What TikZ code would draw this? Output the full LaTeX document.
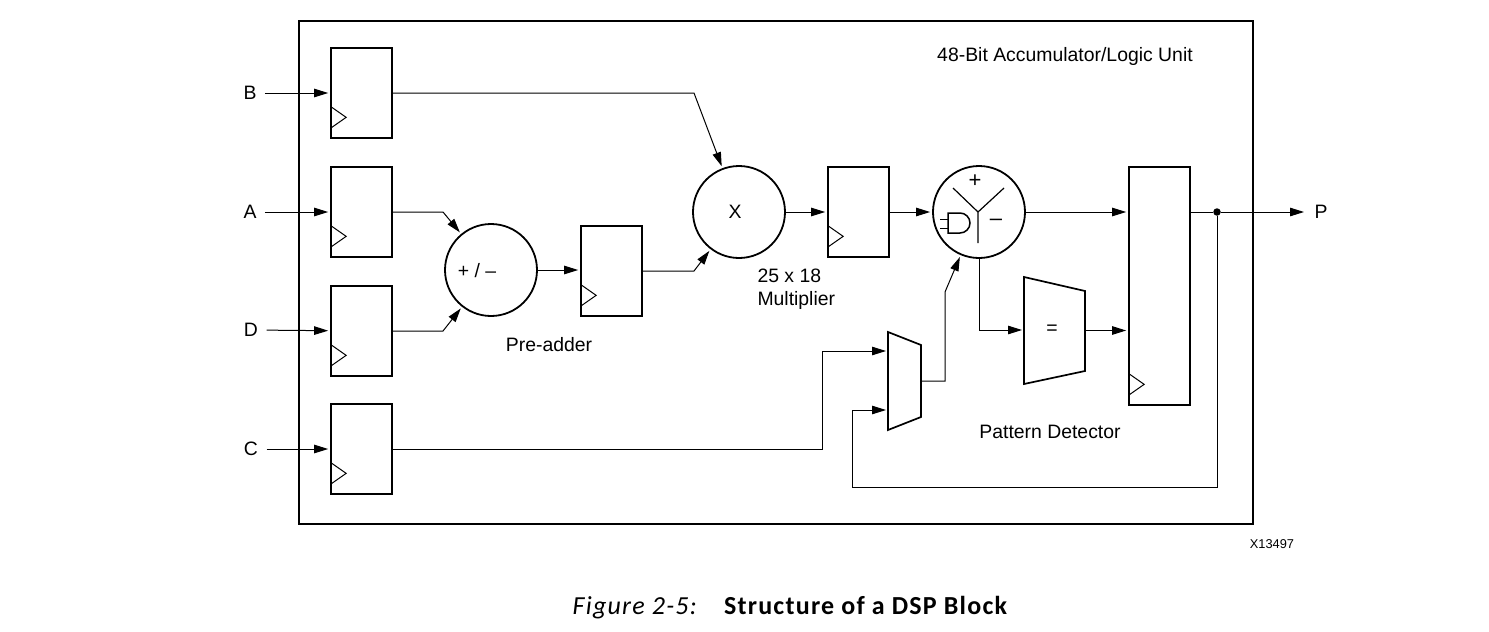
\documentclass[tikz,border=0pt]{standalone}
\usepackage{fontspec}
\setmainfont{Liberation Sans}
\newfontfamily\capfont[LetterSpace=4.7]{Carlito}
\usetikzlibrary{calc,arrows.meta}

\begin{document}
\begin{tikzpicture}[x=1pt,y=-1pt,>={Stealth[length=14pt,width=8.5pt,inset=0pt]},
	line width=1pt,
	]

	\tikzset{reg/.style={draw,line width=1.7pt,minimum width=61pt,minimum height=90pt,inner sep=0pt}}
	\tikzset{oper/.style={draw,circle,line width=1.8pt,minimum size=92pt,inner sep=0pt}}
	\tikzset{pinlabel/.style={inner sep=8pt,font=\fontsize{19.4}{23}\selectfont}}
	\tikzset{lbl/.style={inner sep=0pt,font=\fontsize{19.4}{23}\selectfont}}
	\tikzset{wire/.style={->,shorten >=2pt}}
	\tikzset{muxbox/.style={inner sep=0pt,outer sep=0pt}}
	\tikzset{muxline/.style={line width=1.7pt,line join=miter}}

	\useasboundingbox (0,0) rectangle (1489,632);

	\node[draw,line width=2pt,minimum width=954pt,minimum height=503pt,inner sep=0pt] (unit) at (776,272.5) {};
	\node[lbl] (unittext) at (1065,56) {48-Bit Accumulator/Logic Unit};

	% input registers
	\node[reg] (regB) at (361.5,93) {};
	\node[reg] (regA) at (361.5,212) {};
	\node[reg] (regD) at (361.5,331) {};
	\node[reg] (regC) at (361.5,449) {};
	\node[reg] (regPre) at (611.5,271) {};
	\node[reg] (regM) at (858.5,212) {};
	\node[reg,minimum height=238pt] (regP) at (1159.5,286) {};

	\foreach \r in {regB,regA,regD,regC,regPre,regM,regP}
		\draw ($(\r.south west)+(1,-32)$) -- ($(\r.south west)+(16,-21.5)$) -- ($(\r.south west)+(1,-11)$);

	\node[oper] (preadd) at (491,270) {};
	\node[lbl] (preaddtext) at (477,271) {+ / --};
	\node[oper] (mult) at (739,212) {};
	\node[lbl] (multsign) at (735,212) {X};
	\node[oper] (alu) at (979,212) {};

	\node[muxbox,minimum width=33pt,minimum height=98pt] (mux) at (904.5,381) {};
	\draw[muxline] (mux.north west) -- ($(mux.north east)+(0,13)$) -- ($(mux.south east)+(0,-13)$) -- (mux.south west) -- cycle;
	\node[muxbox,minimum width=61pt,minimum height=107pt] (eq) at (1054.5,330.5) {};
	\draw[muxline] (eq.north west) -- ($(eq.north east)+(0,14)$) -- ($(eq.south east)+(0,-13)$) -- (eq.south west) -- cycle;
	\node[lbl] (eqsign) at (1052,330) {=};

	% inside of the adder
	\draw[line width=1.2pt] (953,188) -- (978,212) -- (1004,188) (978,212) -- (978,243);
	\node[lbl,font=\fontsize{22}{24}\selectfont] (plus) at (975,181) {+};
	\node[lbl,font=\fontsize{22}{24}\selectfont] (minus) at (996,222) {--};
	\draw[line width=1.5pt] (948,213) -- (960,213) arc[start angle=-90,end angle=90,radius=10] -- (948,233) -- cycle;
	\draw (940,219) -- (948,219) (940,228) -- (948,228);

	% pins
	\node[pinlabel] (pinB) at (250,93) {B};
	\node[pinlabel] (pinA) at (250,212) {A};
	\node[pinlabel] (pinD) at (251,330) {D};
	\node[pinlabel] (pinC) at (251,449) {C};
	\node[pinlabel] (pinP) at (1321,212) {P};
	\foreach \p/\r in {pinB/regB,pinA/regA,pinD/regD,pinC/regC}
		\draw[wire] (\p) -- (\r);

	\draw[wire] (regB.east) -- (694,93) -- (mult);
	\draw[wire] (regA.east) -- (443,212) -- (preadd);
	\draw[wire] (regD.east) -- (443,331) -- (preadd);
	\draw[wire] (preadd) -- (regPre.west |- preadd);
	\draw[wire] (regPre.east) -- (694,271) -- (mult);
	\draw[wire] (mult) -- (regM);
	\draw[wire] (regM) -- (alu);
	\draw[wire] (alu.east) -- (regP.west |- alu);
	\draw[wire] (regC.east) -- (822,449) -- (822,351) -- (mux.west |- 0,351);
	\draw[wire] (mux.east) -- (945,381) -- (945,292) -- (alu);
	\draw[wire] (alu.south) -- (979,330) -- (eq.west |- 0,330);
	\draw[wire] (eq.east) -- (regP.west |- eq);

	\node[circle,fill=black,inner sep=0pt,minimum size=7.5pt] (tap) at (1217,212) {};
	\draw (regP.east |- tap) -- (tap);
	\draw[wire] (tap) -- (pinP);
	\draw[wire] (tap) -- (1217,487) -- (852,487) -- (852,410) -- (mux.west |- 0,410);

	% labels
	\node[lbl,align=left,anchor=north west] (multtext) at (757,268) {25 x 18\\Multiplier};
	\node[lbl] (pretext) at (549,345) {Pre-adder};
	\node[lbl] (pattext) at (1050,432) {Pattern Detector};
	\node[inner sep=0pt,font=\fontsize{12.8}{15}\selectfont] (fignum) at (1272,544.5) {X13497};
	\node[inner sep=0pt,anchor=base,font=\capfont\fontsize{26}{28}\selectfont] (caption) at (790.5,614) {\textit{Figure 2-5:}\hspace{26pt}\textbf{Structure of a DSP Block}};

\end{tikzpicture}
\end{document}
